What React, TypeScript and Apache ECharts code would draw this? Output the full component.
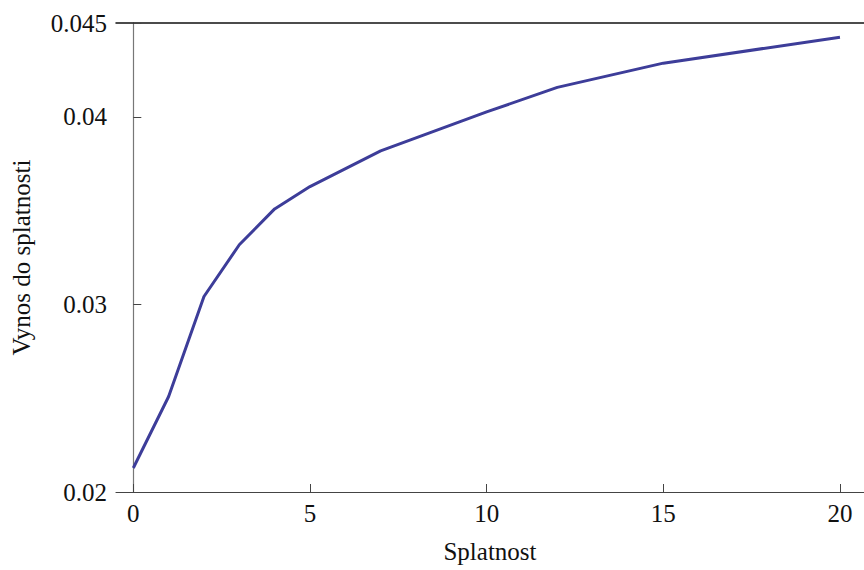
import React, { useEffect, useRef } from "react";
import * as echarts from "echarts";

const maturities = [0, 1, 2, 3, 4, 5, 7, 10, 12, 15, 20];
const yields = [0.02128, 0.02509, 0.03042, 0.03318, 0.03509, 0.03628, 0.03818, 0.04026, 0.04157, 0.04286, 0.04424];
const xTicks = [0, 5, 10, 15, 20];
const yTicks = [0.02, 0.03, 0.04, 0.045];

const FONT = "Liberation Serif";

export default function App() {
  const ref = useRef<HTMLDivElement>(null);
  useEffect(() => {
    if (!ref.current) return;
    const chart = echarts.init(ref.current, undefined, { renderer: "svg" });
    const data = maturities.map((m, i) => [m, yields[i]]);
    chart.setOption({
      animation: false,
      backgroundColor: "#ffffff",
      grid: { left: 116, right: 0, top: 23, bottom: 78 },
      xAxis: [
        {
          type: "value",
          min: -0.49,
          max: 20.68,
          name: "Splatnost",
          nameLocation: "middle",
          nameGap: 47,
          nameTextStyle: { fontFamily: FONT, fontSize: 25, color: "#111" },
          axisLine: { show: true, lineStyle: { color: "#444", width: 1.2 } },
          axisTick: { show: true, inside: true, length: 8, customValues: xTicks, lineStyle: { color: "#444" } },
          axisLabel: { customValues: xTicks, margin: 9, fontFamily: FONT, fontSize: 25, color: "#111" },
          splitLine: { show: false },
        },
        {
          type: "value",
          position: "top",
          min: -0.49,
          max: 20.68,
          axisLine: { show: true, lineStyle: { color: "#111", width: 1.5 } },
          axisTick: { show: false },
          axisLabel: { show: false },
          splitLine: { show: false },
        },
      ],
      yAxis: {
        type: "value",
        min: 0.02,
        max: 0.045,
        name: "Vynos do splatnosti",
        nameLocation: "middle",
        nameGap: 82,
        nameTextStyle: { fontFamily: FONT, fontSize: 25, color: "#111" },
        axisLine: { show: true, lineStyle: { color: "#777", width: 1.2 } },
        axisTick: { show: true, inside: true, length: 8, customValues: yTicks, lineStyle: { color: "#444" } },
        axisLabel: {
          customValues: yTicks,
          margin: 9,
          fontFamily: FONT,
          fontSize: 25,
          color: "#111",
          formatter: (v: number) => String(Number(v.toFixed(4))),
        },
        splitLine: { show: false },
      },
      series: [
        {
          type: "line",
          xAxisIndex: 0,
          data,
          showSymbol: false,
          symbol: "none",
          lineStyle: { color: "#3d3d99", width: 3 },
        },
      ],
    });
    return () => chart.dispose();
  }, []);
  return <div ref={ref} style={{ width: 864, height: 570, position: "absolute", left: 0, top: 0 }} />;
}
